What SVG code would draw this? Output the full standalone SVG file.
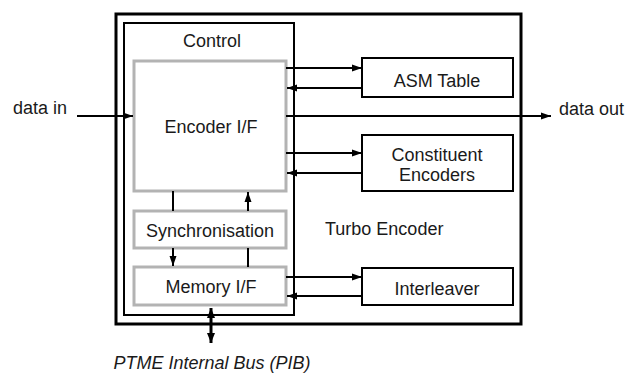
<svg xmlns="http://www.w3.org/2000/svg" width="627" height="373" viewBox="0 0 627 373">
<style>
text{font-family:"Liberation Sans",Arial,sans-serif;font-size:18px;fill:#1a1a1a}
.c{text-anchor:middle}
.gray{fill:#fff;stroke:#b3b3b3;stroke-width:3}
.blk{fill:#fff;stroke:#000;stroke-width:2}
.ln{stroke:#000;stroke-width:2;fill:none}
</style>
<defs>
<marker id="ah" markerUnits="userSpaceOnUse" markerWidth="10" markerHeight="10" viewBox="0 0 10 10" refX="10" refY="5" orient="auto">
<path d="M0,1.5 L10,5 L0,8.5 Z" fill="#000"/>
</marker>
<marker id="ahs" markerUnits="userSpaceOnUse" markerWidth="10" markerHeight="10" viewBox="0 0 10 10" refX="10" refY="5" orient="auto-start-reverse">
<path d="M0,1 L10,5 L0,9 Z" fill="#000"/>
</marker>
</defs>
<g id="turbo-encoder">
<rect x="116" y="14" width="405" height="310" fill="#fff" stroke="#000" stroke-width="3"/>
<text x="325" y="235">Turbo Encoder</text>
</g>
<g id="control">
<rect x="124" y="23" width="170" height="292" fill="#fff" stroke="#000" stroke-width="2"/>
<text class="c" x="212" y="47">Control</text>
</g>
<g id="encoder-if">
<rect class="gray" x="134" y="61" width="152" height="130"/>
<text class="c" x="211" y="133">Encoder I/F</text>
</g>
<g id="synchronisation">
<rect class="gray" x="134" y="211" width="152" height="37"/>
<text class="c" x="210" y="237">Synchronisation</text>
</g>
<g id="memory-if">
<rect class="gray" x="134" y="267" width="152" height="38"/>
<text class="c" x="211" y="293">Memory I/F</text>
</g>
<g id="asm-table">
<rect class="blk" x="362" y="58" width="151" height="39"/>
<text class="c" x="437" y="87">ASM Table</text>
</g>
<g id="constituent-encoders">
<rect class="blk" x="362" y="135" width="151" height="56"/>
<text class="c" x="437" y="161">Constituent</text>
<text class="c" x="437" y="181">Encoders</text>
</g>
<g id="interleaver">
<rect class="blk" x="362" y="268" width="151" height="37"/>
<text class="c" x="437" y="295">Interleaver</text>
</g>
<g id="labels">
<text x="13" y="114">data in</text>
<text x="559" y="115">data out</text>
<text class="c" x="212" y="369" font-style="italic">PTME Internal Bus (PIB)</text>
</g>
<g id="connectors">
<line class="ln" x1="77" y1="116" x2="133" y2="116" marker-end="url(#ah)"/>
<line class="ln" x1="286" y1="116" x2="551" y2="116" marker-end="url(#ah)"/>
<line class="ln" x1="286" y1="68" x2="362" y2="68" marker-end="url(#ah)"/>
<line class="ln" x1="362" y1="88" x2="287" y2="88" marker-end="url(#ah)"/>
<line class="ln" x1="286" y1="153" x2="362" y2="153" marker-end="url(#ah)"/>
<line class="ln" x1="362" y1="173" x2="287" y2="173" marker-end="url(#ah)"/>
<line class="ln" x1="286" y1="277" x2="362" y2="277" marker-end="url(#ah)"/>
<line class="ln" x1="362" y1="296" x2="287" y2="296" marker-end="url(#ah)"/>
<line class="ln" x1="173" y1="191" x2="173" y2="211"/>
<line class="ln" x1="248" y1="211" x2="248" y2="192" marker-end="url(#ah)"/>
<line class="ln" x1="173" y1="248" x2="173" y2="266" marker-end="url(#ah)"/>
<line class="ln" x1="248" y1="248" x2="248" y2="267"/>
<line x1="211" y1="308" x2="211" y2="343" stroke="#000" stroke-width="3" marker-start="url(#ahs)" marker-end="url(#ahs)"/>
</g>
</svg>
